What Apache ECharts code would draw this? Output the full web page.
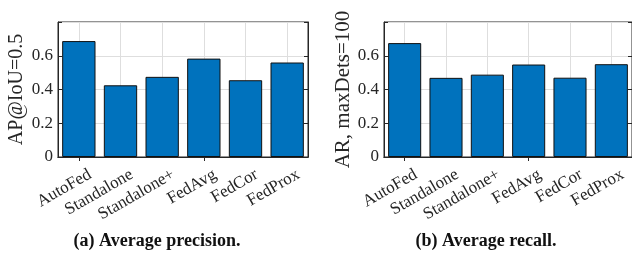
<!DOCTYPE html>
<html>
<head>
<meta charset="utf-8">
<script src="https://cdn.jsdelivr.net/npm/echarts@6/dist/echarts.min.js"></script>
<style>
  html, body { margin: 0; padding: 0; background: #fff; }
  #chart { width: 632px; height: 254px; }
</style>
</head>
<body>
<div id="chart"></div>
<script>
var methods = ['AutoFed', 'Standalone', 'Standalone+', 'FedAvg', 'FedCor', 'FedProx'];
var apValues = [0.687, 0.425, 0.475, 0.583, 0.455, 0.560];
var arValues = [0.675, 0.469, 0.488, 0.548, 0.470, 0.550];
var yTicks = [0, 0.2, 0.4, 0.6];
var yMax = 0.8;
var captions = ['(a) Average precision.', '(b) Average recall.'];
var yNames = ['AP@IoU=0.5', 'AR, maxDets=100'];

var serif = '"Liberation Serif", "DejaVu Serif", serif';
var ink = '#262626';
var gridLine = '#dedede';

var grids = [
  { left: 58, top: 22, width: 250, height: 135 },
  { left: 384, top: 22, width: 250, height: 135 }
];

function yLabel(v) {
  for (var i = 0; i < yTicks.length; i++) {
    if (Math.abs(v - yTicks[i]) < 1e-6) return String(yTicks[i]);
  }
  return '';
}

var xAxes = [], yAxes = [], series = [], titles = [];
grids.forEach(function(g, i) {
  g.show = true;
  g.borderColor = ink;
  g.borderWidth = 1;
  g.backgroundColor = '#fff';
  // bottom category axis
  xAxes.push({
    type: 'category', gridIndex: i, data: methods, position: 'bottom',
    axisLine: { show: true, lineStyle: { color: ink, width: 1 } },
    axisTick: { show: true, inside: true, alignWithLabel: true, length: 4, lineStyle: { color: ink } },
    splitLine: { show: false },
    axisLabel: {
      rotate: 30, margin: 13, interval: 0, color: ink, fontFamily: serif, fontSize: 17,
      align: 'right', verticalAlign: 'top', padding: [0, -8, 0, 0]
    }
  });
  // top mirror axis, ticks only
  xAxes.push({
    type: 'category', gridIndex: i, data: methods, position: 'top',
    axisLine: { show: true, lineStyle: { color: ink, width: 1 } },
    axisTick: { show: true, inside: true, alignWithLabel: true, length: 4, lineStyle: { color: ink } },
    axisLabel: { show: false }, splitLine: { show: false }
  });
  yAxes.push({
    type: 'value', gridIndex: i, min: 0, max: yMax, interval: 0.2, position: 'left',
    name: yNames[i], nameLocation: 'middle', nameGap: i === 0 ? 31 : 30,
    nameTextStyle: { color: ink, fontFamily: serif, fontSize: i === 0 ? 20 : 21 },
    axisLine: { show: true, lineStyle: { color: ink, width: 1 } },
    axisTick: { show: true, inside: true, length: 4, lineStyle: { color: ink } },
    splitLine: { show: true, lineStyle: { color: gridLine, width: 1 } },
    axisLabel: { color: ink, fontFamily: serif, fontSize: 17, margin: 5, formatter: yLabel }
  });
  yAxes.push({
    type: 'value', gridIndex: i, min: 0, max: yMax, interval: 0.2, position: 'right',
    axisLine: { show: true, lineStyle: { color: ink, width: 1 } },
    axisTick: { show: true, inside: true, length: 4, lineStyle: { color: ink } },
    axisLabel: { show: false }, splitLine: { show: false }
  });
  // vertical grid lines through category centres, kept behind the bars
  series.push({
    type: 'line', xAxisIndex: i * 2, yAxisIndex: i * 2, data: [], z: 1,
    markLine: {
      silent: true, symbol: 'none', label: { show: false }, animation: false, z: 1,
      lineStyle: { color: gridLine, width: 1, type: 'solid' },
      data: methods.map(function(m) { return { xAxis: m }; })
    }
  });
  series.push({
    type: 'bar', xAxisIndex: i * 2, yAxisIndex: i * 2,
    data: i === 0 ? apValues : arValues,
    barWidth: '80%',
    itemStyle: { color: '#0072BD', borderColor: '#111', borderWidth: 1 },
    z: 3
  });
  titles.push({
    text: captions[i],
    left: i === 0 ? 157 : 486, top: 232, textAlign: 'center', padding: 0,
    textStyle: { fontFamily: serif, fontWeight: 'bold', fontSize: 18, color: '#111' }
  });
});

var chart = echarts.init(document.getElementById('chart'), null, { renderer: 'canvas' });
chart.setOption({
  backgroundColor: '#fff',
  animation: false,
  title: titles,
  grid: grids,
  xAxis: xAxes,
  yAxis: yAxes,
  series: series
});
</script>
</body>
</html>
